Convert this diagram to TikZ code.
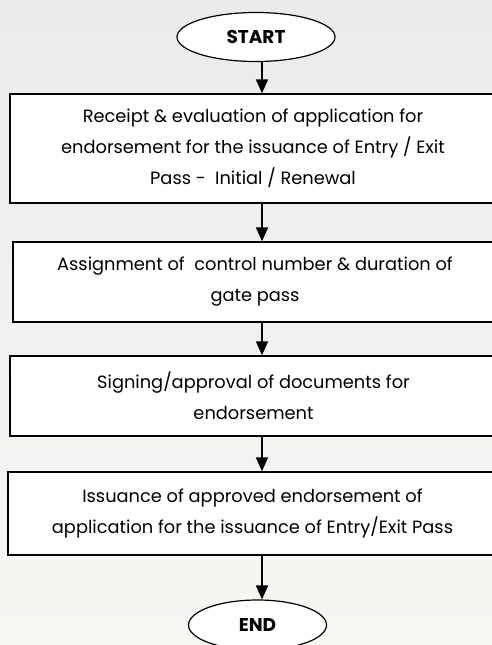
\documentclass[tikz,border=0pt]{standalone}
\usepackage{fontspec}
\setmainfont{Poppins}
\usetikzlibrary{arrows.meta,positioning,shapes.geometric}
\definecolor{flowBgTop}{RGB}{235,235,235}
\definecolor{flowBgBot}{RGB}{247,246,243}

\begin{document}
\begin{tikzpicture}[x=1pt,y=-1pt,
  stepbox/.style={draw,line width=1.4pt,fill=white,align=center,inner sep=0pt,font=\fontsize{17.8}{31}\selectfont},
  terminal/.style={draw,ellipse,line width=1.2pt,fill=white,inner sep=0pt,font=\fontsize{18.5}{20}\selectfont\bfseries},
  flow/.style={-{Triangle[length=14pt,width=12pt]},line width=1.8pt}]
  \shade[top color=flowBgTop,bottom color=flowBgBot] (0,0) rectangle (492,645);
  \useasboundingbox (0,0) rectangle (492,645);
  \clip (0,0) rectangle (492,645);
  \coordinate (axis) at (262,0);
  % terminals and steps
  \node[terminal,minimum width=158pt,minimum height=49pt] (start) at (256,37) {START};
  \node[stepbox,minimum width=486pt,minimum height=109pt] (receipt) at (253,148.5)
    {Receipt \& evaluation of application for\\endorsement for the issuance of Entry / Exit\\Pass -\ \ Initial / Renewal};
  \node[stepbox,minimum width=484pt,minimum height=80pt] (assign) at (255,282)
    {Assignment of\ \ control number \& duration of\\gate pass};
  \node[stepbox,minimum width=487pt,minimum height=80pt] (signing) at (253.5,396)
    {Signing/approval of documents for\\endorsement};
  \node[stepbox,minimum width=489pt,minimum height=83pt] (issuance) at (252.5,513.5)
    {Issuance of approved endorsement of\\application for the issuance of Entry/Exit Pass};
  \node[terminal,minimum width=138pt,minimum height=50pt] (end) at (257.5,625) {END};
  % connectors
  \draw[flow] (start.south -| axis) -- (receipt.north -| axis);
  \draw[flow] (receipt.south -| axis) -- (assign.north -| axis);
  \draw[flow] (assign.south -| axis) -- (signing.north -| axis);
  \draw[flow] (signing.south -| axis) -- (issuance.north -| axis);
  \draw[flow] (issuance.south -| axis) -- (end.north -| axis);
\end{tikzpicture}
\end{document}
